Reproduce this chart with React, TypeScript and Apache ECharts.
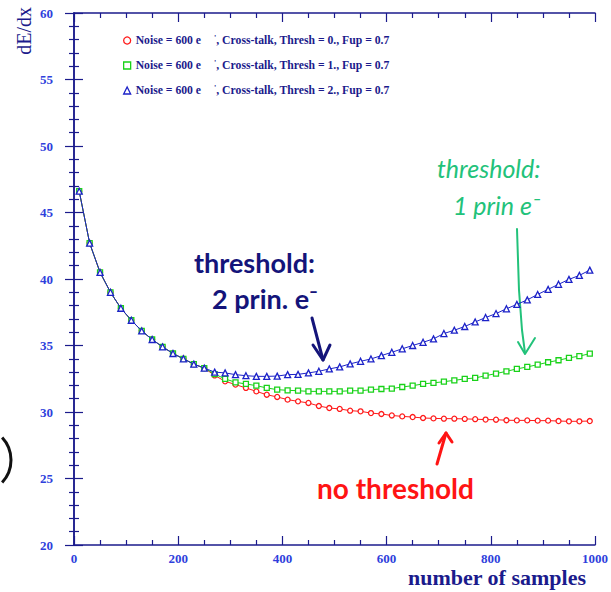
import React, { useEffect, useRef } from "react";
import * as echarts from "echarts";

// number of samples (x positions of points)
const samples = [
  10, 30, 50, 70, 90, 110, 130, 150, 170, 190,
  210, 230, 250, 270, 290, 310, 330, 350, 370, 390,
  410, 430, 450, 470, 490, 510, 530, 550, 570, 590,
  610, 630, 650, 670, 690, 710, 730, 750, 770, 790,
  810, 830, 850, 870, 890, 910, 930, 950, 970, 990,
];

// first points, common to all three series
const shared = [46.6, 42.7, 40.5, 39.0, 37.8, 36.9, 36.1, 35.45, 34.9, 34.4, 34.0, 33.6, 33.3];

const thresh0Rest = [
  32.75, 32.31, 32.06, 31.81, 31.55, 31.3, 31.13, 30.93, 30.8, 30.68,
  30.45, 30.3, 30.23, 30.1, 30.05, 29.92, 29.85, 29.74, 29.67, 29.62,
  29.55, 29.52, 29.5, 29.5, 29.48, 29.46, 29.43, 29.42, 29.38, 29.37,
  29.37, 29.35, 29.35, 29.32, 29.3, 29.3, 29.32,
];
const thresh1Rest = [
  32.85, 32.49, 32.23, 32.11, 31.98, 31.81, 31.68, 31.63, 31.6, 31.55,
  31.55, 31.55, 31.55, 31.6, 31.6, 31.68, 31.73, 31.76, 31.88, 31.98,
  32.11, 32.19, 32.28, 32.38, 32.49, 32.56, 32.73, 32.89, 33.06, 33.24,
  33.39, 33.56, 33.74, 33.89, 34.07, 34.2, 34.39,
];
const thresh2Rest = [
  33.0, 32.94, 32.81, 32.73, 32.68, 32.68, 32.7, 32.81, 32.83, 32.94,
  33.06, 33.24, 33.39, 33.62, 33.81, 33.99, 34.24, 34.49, 34.75, 35.0,
  35.24, 35.5, 35.9, 36.15, 36.43, 36.77, 37.1, 37.4, 37.76, 38.09,
  38.43, 38.84, 39.22, 39.6, 39.97, 40.27, 40.67,
];

const seriesNames = [
  "Noise = 600 e⁻, Cross-talk, Thresh = 0., Fup = 0.7",
  "Noise = 600 e⁻, Cross-talk, Thresh = 1., Fup = 0.7",
  "Noise = 600 e⁻, Cross-talk, Thresh = 2., Fup = 0.7",
];
const seriesColors = ["#ff1a1a", "#19d219", "#1c22c8"];
const seriesSymbols = ["circle", "rect", "triangle"];
const seriesSymbolSizes = [5, 5, 6];

const yTicks = [20, 60, 5];
const xTicks = [0, 1000, 200];

const NAVY = "#1b1b8c";
const LABEL = "#2f3fdc";
const SERIF = "'Liberation Serif', 'DejaVu Serif', serif";
const HAND = "Lato, 'Open Sans', sans-serif";

export default function App() {
  const ref = useRef<HTMLDivElement>(null);
  useEffect(() => {
    if (!ref.current) return;
    const chart = echarts.init(ref.current, null, { renderer: "svg" });
    const values = [
      shared.concat(thresh0Rest),
      shared.concat(thresh1Rest),
      shared.concat(thresh2Rest),
    ];
    const axisLine = { show: true, lineStyle: { color: NAVY, width: 1.5 } };
    const tickStyle = { color: NAVY, width: 1.2 };
    const xBase = {
      type: "value",
      min: xTicks[0],
      max: xTicks[1],
      interval: xTicks[2],
      axisLine,
      axisTick: { show: true, inside: true, length: 9, lineStyle: tickStyle },
      minorTick: { show: true, splitNumber: 4, length: 5, lineStyle: tickStyle },
      splitLine: { show: false },
      minorSplitLine: { show: false },
    };
    const yBase = {
      type: "value",
      min: yTicks[0],
      max: yTicks[1],
      interval: yTicks[2],
      axisLine,
      axisTick: { show: true, inside: true, length: 9, lineStyle: tickStyle },
      minorTick: { show: true, splitNumber: 5, length: 5, lineStyle: tickStyle },
      splitLine: { show: false },
      minorSplitLine: { show: false },
    };
    const labelStyle = {
      color: LABEL,
      fontFamily: SERIF,
      fontWeight: "bold",
      fontSize: 13,
      formatter: (v: number) => String(v),
    };
    const arrowStyle = (c: string) => ({ stroke: c, lineWidth: 3, fill: "none", lineCap: "round", lineJoin: "round" });
    chart.setOption({
      animation: false,
      backgroundColor: "#ffffff",
      grid: { left: 74, right: 10, top: 13, bottom: 47, containLabel: false },
      legend: {
        orient: "vertical",
        left: 118,
        top: 28,
        itemWidth: 7,
        itemHeight: 7,
        itemGap: 10,
        selectedMode: false,
        data: seriesNames.map((n, i) => ({
          name: n,
          icon: seriesSymbols[i],
          itemStyle: { color: "rgba(0,0,0,0)", borderColor: seriesColors[i], borderWidth: 1.3 },
        })),
        formatter: (name: string) => {
          const parts = name.split("e⁻");
          return `{a|${parts[0]}e}{s|'}{a|${parts[1]}}`;
        },
        textStyle: {
          color: NAVY,
          fontFamily: SERIF,
          fontWeight: "bold",
          fontSize: 11.7,
          lineHeight: 15,
          rich: {
            a: { color: NAVY, fontFamily: SERIF, fontWeight: "bold", fontSize: 11.7, lineHeight: 15 },
            s: { color: NAVY, fontFamily: SERIF, fontWeight: "bold", fontSize: 8, padding: [0, 0, 5, 13], lineHeight: 15 },
          },
        },
      },
      xAxis: [
        { ...xBase, position: "bottom", axisLabel: { ...labelStyle, margin: 7 } },
        { ...xBase, position: "top", axisLabel: { show: false } },
      ],
      yAxis: [
        { ...yBase, position: "left", axisLabel: { ...labelStyle, margin: 21 } },
        { ...yBase, position: "right", axisLabel: { show: false } },
      ],
      series: seriesNames.map((n, i) => ({
        name: n,
        type: "line",
        xAxisIndex: 0,
        yAxisIndex: 0,
        data: samples.map((x, j) => [x, values[i][j]]),
        symbol: seriesSymbols[i],
        symbolSize: seriesSymbolSizes[i],
        showSymbol: true,
        lineStyle: { color: seriesColors[i], width: 1 },
        itemStyle: { color: "#ffffff", borderColor: seriesColors[i], borderWidth: 1.3 },
        z: 2 + i,
      })),
      graphic: [
        {
          type: "text",
          x: 24,
          y: 7,
          rotation: Math.PI / 2,
          style: {
            text: "dE/dx",
            fill: NAVY,
            font: `normal 20px ${SERIF}`,
            textAlign: "right",
            textVerticalAlign: "middle",
          },
        },
        {
          type: "text",
          x: 586,
          y: 577,
          style: {
            text: "number of samples",
            fill: NAVY,
            font: `bold 22px ${SERIF}`,
            textAlign: "right",
            textVerticalAlign: "middle",
          },
        },
        // handwritten notes
        {
          type: "text",
          x: 194,
          y: 262,
          style: { text: "threshold:", fill: "#14147a", font: `bold 27px ${HAND}`, textVerticalAlign: "middle" },
        },
        {
          type: "text",
          x: 212,
          y: 298,
          style: { text: "2 prin. e⁻", fill: "#14147a", font: `bold 27px ${HAND}`, textVerticalAlign: "middle" },
        },
        {
          type: "polyline",
          shape: { points: [[312, 318], [323, 360]] },
          style: arrowStyle("#14147a"),
        },
        {
          type: "polyline",
          shape: { points: [[313, 345], [323, 360], [330, 345]] },
          style: arrowStyle("#14147a"),
        },
        {
          type: "text",
          x: 437,
          y: 168,
          style: { text: "threshold:", fill: "#22c27a", font: `italic 25px ${HAND}`, textVerticalAlign: "middle" },
        },
        {
          type: "text",
          x: 453,
          y: 205,
          style: { text: "1 prin e⁻", fill: "#22c27a", font: `italic 25px ${HAND}`, textVerticalAlign: "middle" },
        },
        {
          type: "polyline",
          shape: { points: [[517, 229], [519, 290], [522, 330], [525, 353]] },
          style: { ...arrowStyle("#22c27a"), lineWidth: 2 },
        },
        {
          type: "polyline",
          shape: { points: [[518, 342], [525, 354], [535, 338]] },
          style: { ...arrowStyle("#22c27a"), lineWidth: 2 },
        },
        {
          type: "text",
          x: 317,
          y: 488,
          style: { text: "no threshold", fill: "#ff1414", font: `bold 28px ${HAND}`, textVerticalAlign: "middle" },
        },
        {
          type: "polyline",
          shape: { points: [[437, 464], [446, 433]] },
          style: arrowStyle("#ff1414"),
        },
        {
          type: "polyline",
          shape: { points: [[439, 443], [446, 433], [452, 442]] },
          style: arrowStyle("#ff1414"),
        },
        {
          type: "arc",
          shape: { cx: -22, cy: 460, r: 33, startAngle: -0.75, endAngle: 0.75 },
          style: { stroke: "#111111", lineWidth: 3, fill: "none" },
        },
      ],
    });
    return () => chart.dispose();
  }, []);
  return (
    <div
      ref={ref}
      style={{ position: "fixed", left: 0, top: 0, width: 611, height: 592, background: "#fff" }}
    />
  );
}
